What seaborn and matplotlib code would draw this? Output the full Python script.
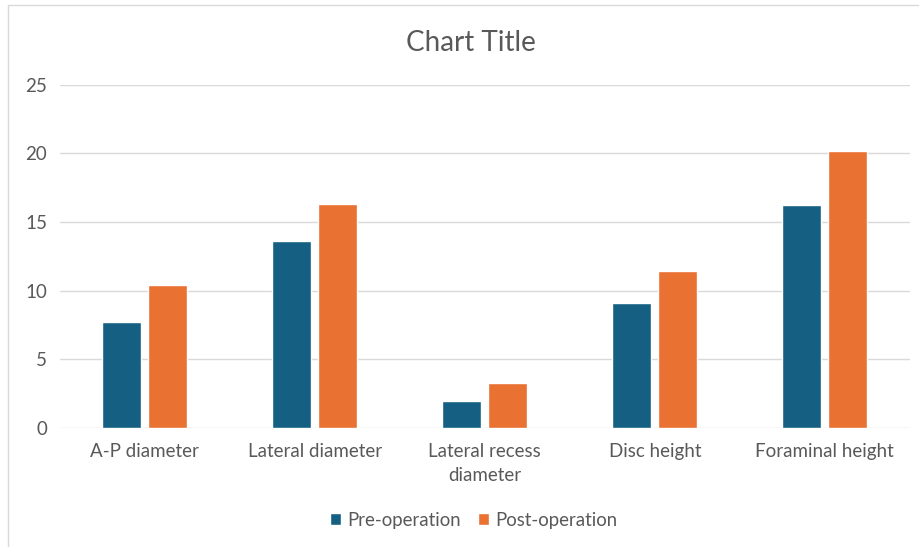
import pandas as pd
import matplotlib.pyplot as plt
import seaborn as sns
from matplotlib.patches import Rectangle

# chart values
categories = ['A-P diameter', 'Lateral diameter', 'Lateral recess\ndiameter',
              'Disc height', 'Foraminal height']
pre_operation = [7.7, 13.65, 1.95, 9.1, 16.25]
post_operation = [10.4, 16.35, 3.25, 11.45, 20.2]
series_names = ['Pre-operation', 'Post-operation']
y_ticks = [0, 5, 10, 15, 20, 25]


def build_frame():
    # long format table for seaborn
    df = pd.DataFrame({'Category': categories * 2,
                       'Value': pre_operation + post_operation,
                       'Series': [series_names[0]] * len(categories)
                       + [series_names[1]] * len(categories)})
    return df


def main():
    df = build_frame()
    sns.set_theme(style='white')
    plt.rcParams['font.family'] = ['Lato', 'DejaVu Sans']

    fig = plt.figure(figsize=(9.2, 5.47), dpi=100)
    ax = fig.add_axes([0.065, 0.2175, 0.924, 0.6275])

    sns.barplot(data=df, x='Category', y='Value', hue='Series',
                palette=['#156082', '#E97132'], width=0.54, gap=0.15,
                saturation=1, ax=ax)

    ax.set_ylim(0, 25)
    ax.set_yticks(y_ticks)
    ax.yaxis.grid(True, color='#D9D9D9', linewidth=1)
    ax.set_axisbelow(True)
    for s in ax.spines.values():
        s.set_visible(False)
    ax.set_xlabel('')
    ax.set_ylabel('')
    ax.tick_params(axis='both', length=0, labelsize=13.5, colors='#595959')
    ax.tick_params(axis='x', pad=11)
    ax.tick_params(axis='y', pad=9)
    for lbl in ax.get_xticklabels():
        lbl.set_linespacing(1.45)

    fig.text(0.512, 0.922, 'Chart Title', ha='center', va='center',
             fontsize=20, color='#595959')

    ax.legend(loc='center', bbox_to_anchor=((0.515 - 0.065) / 0.924, -0.268),
              ncol=2, frameon=False, fontsize=13.4, handlelength=0.6,
              handleheight=0.6, handletextpad=0.35, columnspacing=0.9,
              labelcolor='#595959')

    # light chart border
    fig.patches.append(Rectangle((0.009, -0.01), 1.1, 1.0, transform=fig.transFigure,
                                 fill=False, edgecolor='#D9D9D9', linewidth=1))

    fig.savefig('out.png', dpi=100)


if __name__ == "__main__":
    main()
